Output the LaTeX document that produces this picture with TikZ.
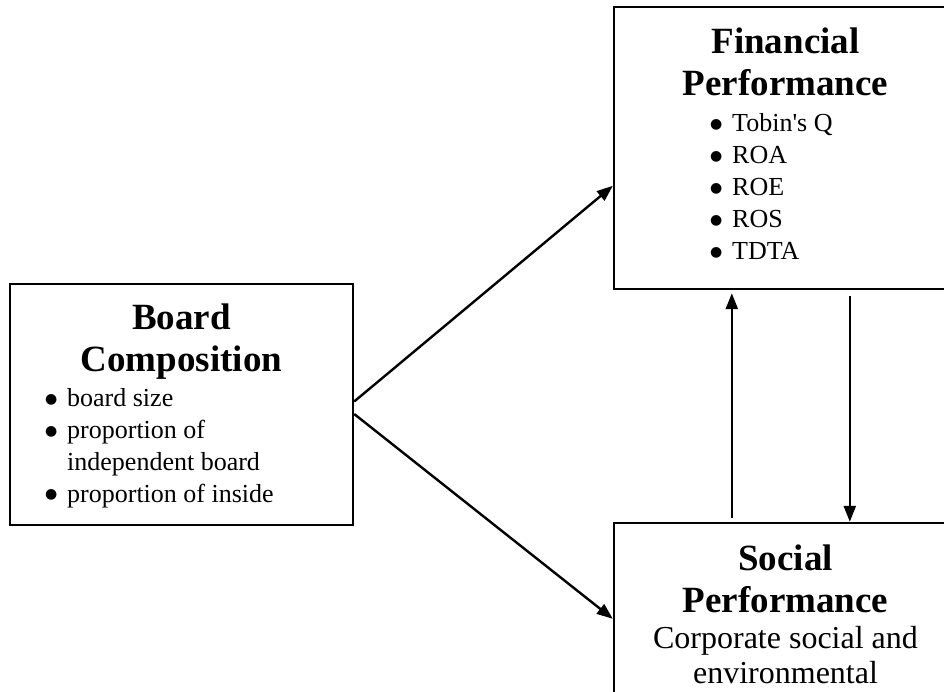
\documentclass[tikz,border=0pt]{standalone}
\usepackage{fontspec}
\setmainfont{Liberation Serif}
\newfontfamily\dotfont{DejaVu Sans}
\usetikzlibrary{arrows.meta,calc}
% list marker: a round black dot followed by the item indent
\newcommand\itemdot{\makebox[22pt][l]{\raisebox{3.5pt}{\dotfont\fontsize{14}{14}\selectfont ●}}}
\begin{document}
\begin{tikzpicture}[x=1pt,y=-1pt,
  panel/.style={draw=black,line width=2.4pt,inner sep=0pt},
  heading/.style={font=\bfseries\fontsize{37}{42}\selectfont,align=center,anchor=base,inner sep=0pt},
  items/.style={font=\fontsize{26}{32}\selectfont,align=left,anchor=base west,inner sep=0pt},
  plain/.style={font=\fontsize{32}{35}\selectfont,align=center,anchor=base,inner sep=0pt},
  link/.style={line width=2.4pt,-{Triangle[length=16pt,width=12pt]}}]
\useasboundingbox (0,0) rectangle (944,691);
\clip (0,0) rectangle (944,691);

% boxes (the right and lower ones run past the page edge)
\node[panel,minimum width=343pt,minimum height=241pt] (board) at (181.5,404.5) {};
\node[panel,minimum width=343pt,minimum height=282pt] (fin) at (785.5,148) {};
\node[panel,minimum width=343pt,minimum height=282pt] (social) at (785.5,664) {};

% box contents (each node sits on the baseline of its last line)
\node[heading] (finT) at (785.5,95) {Financial\\Performance};
\node[items] (finL) at (710,259.5) {\itemdot Tobin\textquotesingle s Q\\\itemdot ROA\\\itemdot ROE\\\itemdot ROS\\\itemdot TDTA};
\node[heading] (boardT) at (181.5,371) {Board\\Composition};
\node[items,font=\fontsize{26}{31.7}\selectfont] (boardL) at (45,502) {\itemdot board size\\\itemdot proportion of\\\hspace*{22pt}independent board\\\itemdot proportion of inside};
\node[heading] (socialT) at (785.5,612) {Social\\Performance};
\node[plain] (socialL) at (785.5,683) {Corporate social and\\environmental};

% connectors
\draw[link] ($(board.east)+(0,-3)$) -- ($(fin.north west)+(0,180)$);
\draw[link] ($(board.east)+(0,9.5)$) -- ($(social.north west)+(0,97)$);
\draw[link] ($(social.north west)+(119,-4)$) -- ($(fin.south west)+(119,3)$);
\draw[link] ($(fin.south west)+(237,6)$) -- ($(social.north west)+(237,0)$);
\end{tikzpicture}
\end{document}
